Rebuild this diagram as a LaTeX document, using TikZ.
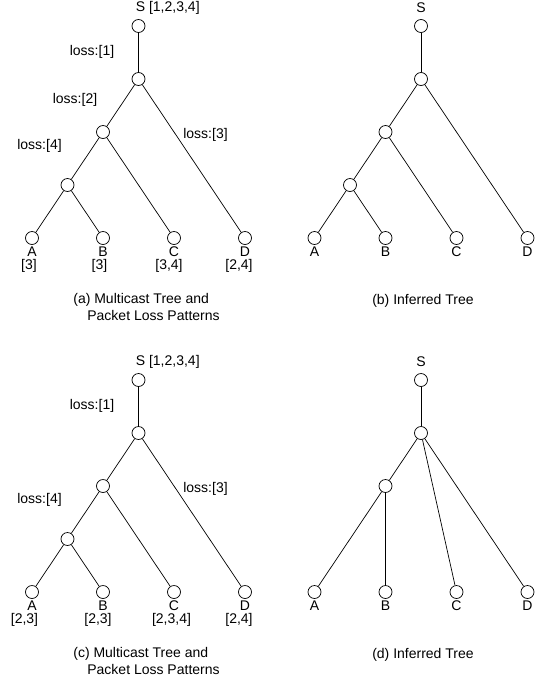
\documentclass[tikz,border=0pt]{standalone}
\usepackage{fontspec}
\setmainfont{Liberation Sans}
\usetikzlibrary{positioning}
\tikzset{
  hop/.style={circle, draw, minimum size=13pt, inner sep=0pt},
  txt/.style={inner sep=0pt, font=\fontsize{14}{16}\selectfont},
  link/.style={line width=0.7pt}
}

\begin{document}
\begin{tikzpicture}[x=1pt, y=-1pt, line width=0.7pt]
  \useasboundingbox (0,0) rectangle (536,678);
  % ── (a) multicast tree, loss patterns per receiver
  \node[hop] (a-s) at (138.5,26) {};
  \node[hop] (a-1) at (138.5,79) {};
  \node[hop] (a-2) at (103,132) {};
  \node[hop] (a-3) at (67.5,185) {};
  \node[hop] (a-A) at (32,238) {};
  \node[hop] (a-B) at (103,238) {};
  \node[hop] (a-C) at (174,238) {};
  \node[hop] (a-D) at (245,238) {};
  \draw[link] (a-s) -- (a-1);
  \draw[link] (a-1) -- (a-2);
  \draw[link] (a-1) -- (a-D);
  \draw[link] (a-2) -- (a-3);
  \draw[link] (a-2) -- (a-C);
  \draw[link] (a-3) -- (a-A);
  \draw[link] (a-3) -- (a-B);
  \node[txt, anchor=west] (a-slbl) at (135.5,8) {S [1,2,3,4]};
  \node[txt] (a-l1) at (92,52) {loss:[1]};
  \node[txt] (a-l2) at (75,100) {loss:[2]};
  \node[txt] (a-l4) at (39.5,146) {loss:[4]};
  \node[txt] (a-l3) at (205.5,135) {loss:[3]};
  \node[txt] (a-Albl) at (32,252) {A};
  \node[txt] (a-Blbl) at (103,252) {B};
  \node[txt] (a-Clbl) at (174,252) {C};
  \node[txt] (a-Dlbl) at (245,252) {D};
  \node[txt] (a-Apat) at (29,266) {[3]};
  \node[txt] (a-Bpat) at (99.5,266) {[3]};
  \node[txt] (a-Cpat) at (169,266) {[3,4]};
  \node[txt] (a-Dpat) at (239,266) {[2,4]};
  \node[txt, anchor=west] (a-cap1) at (73,300) {(a) Multicast Tree and};
  \node[txt, anchor=west] (a-cap2) at (87,315) {Packet Loss Patterns};

  % ── (b) inferred tree
  \node[hop] (b-s) at (421,26) {};
  \node[hop] (b-1) at (421,79) {};
  \node[hop] (b-2) at (385.5,132) {};
  \node[hop] (b-3) at (350,185) {};
  \node[hop] (b-A) at (314.5,238) {};
  \node[hop] (b-B) at (385.5,238) {};
  \node[hop] (b-C) at (456.5,238) {};
  \node[hop] (b-D) at (527.5,238) {};
  \draw[link] (b-s) -- (b-1);
  \draw[link] (b-1) -- (b-2);
  \draw[link] (b-1) -- (b-D);
  \draw[link] (b-2) -- (b-3);
  \draw[link] (b-2) -- (b-C);
  \draw[link] (b-3) -- (b-A);
  \draw[link] (b-3) -- (b-B);
  \node[txt] (b-slbl) at (421,8) {S};
  \node[txt] (b-Albl) at (314.5,252) {A};
  \node[txt] (b-Blbl) at (385.5,252) {B};
  \node[txt] (b-Clbl) at (456.5,252) {C};
  \node[txt] (b-Dlbl) at (527.5,252) {D};
  \node[txt] (b-cap) at (423,301) {(b) Inferred Tree};

  % ── (c) multicast tree, second set of loss patterns
  \node[hop] (c-s) at (138.5,380) {};
  \node[hop] (c-1) at (138.5,433) {};
  \node[hop] (c-2) at (103,486) {};
  \node[hop] (c-3) at (67.5,539) {};
  \node[hop] (c-A) at (32,592) {};
  \node[hop] (c-B) at (103,592) {};
  \node[hop] (c-C) at (174,592) {};
  \node[hop] (c-D) at (245,592) {};
  \draw[link] (c-s) -- (c-1);
  \draw[link] (c-1) -- (c-2);
  \draw[link] (c-1) -- (c-D);
  \draw[link] (c-2) -- (c-3);
  \draw[link] (c-2) -- (c-C);
  \draw[link] (c-3) -- (c-A);
  \draw[link] (c-3) -- (c-B);
  \node[txt, anchor=west] (c-slbl) at (135.5,362) {S [1,2,3,4]};
  \node[txt] (c-l1) at (92,406) {loss:[1]};
  \node[txt] (c-l4) at (39.5,500) {loss:[4]};
  \node[txt] (c-l3) at (205.5,489) {loss:[3]};
  \node[txt] (c-Albl) at (32,606) {A};
  \node[txt] (c-Blbl) at (103,606) {B};
  \node[txt] (c-Clbl) at (174,606) {C};
  \node[txt] (c-Dlbl) at (245,606) {D};
  \node[txt] (c-Apat) at (24.5,620) {[2,3]};
  \node[txt] (c-Bpat) at (98,620) {[2,3]};
  \node[txt] (c-Cpat) at (171.5,620) {[2,3,4]};
  \node[txt] (c-Dpat) at (239,620) {[2,4]};
  \node[txt, anchor=west] (c-cap1) at (73,654) {(c) Multicast Tree and};
  \node[txt, anchor=west] (c-cap2) at (87,669) {Packet Loss Patterns};

  % ── (d) inferred tree, flattened
  \node[hop] (d-s) at (421,380) {};
  \node[hop] (d-1) at (421,433) {};
  \node[hop] (d-2) at (385.5,486) {};
  \node[hop] (d-A) at (314.5,592) {};
  \node[hop] (d-B) at (385.5,592) {};
  \node[hop] (d-C) at (456.5,592) {};
  \node[hop] (d-D) at (527.5,592) {};
  \draw[link] (d-s) -- (d-1);
  \draw[link] (d-1) -- (d-2);
  \draw[link] (d-1) -- (d-C);
  \draw[link] (d-1) -- (d-D);
  \draw[link] (d-2) -- (d-A);
  \draw[link] (d-2) -- (d-B);
  \node[txt] (d-slbl) at (421,362) {S};
  \node[txt] (d-Albl) at (314.5,606) {A};
  \node[txt] (d-Blbl) at (385.5,606) {B};
  \node[txt] (d-Clbl) at (456.5,606) {C};
  \node[txt] (d-Dlbl) at (527.5,606) {D};
  \node[txt] (d-cap) at (423,655) {(d) Inferred Tree};
\end{tikzpicture}
\end{document}
